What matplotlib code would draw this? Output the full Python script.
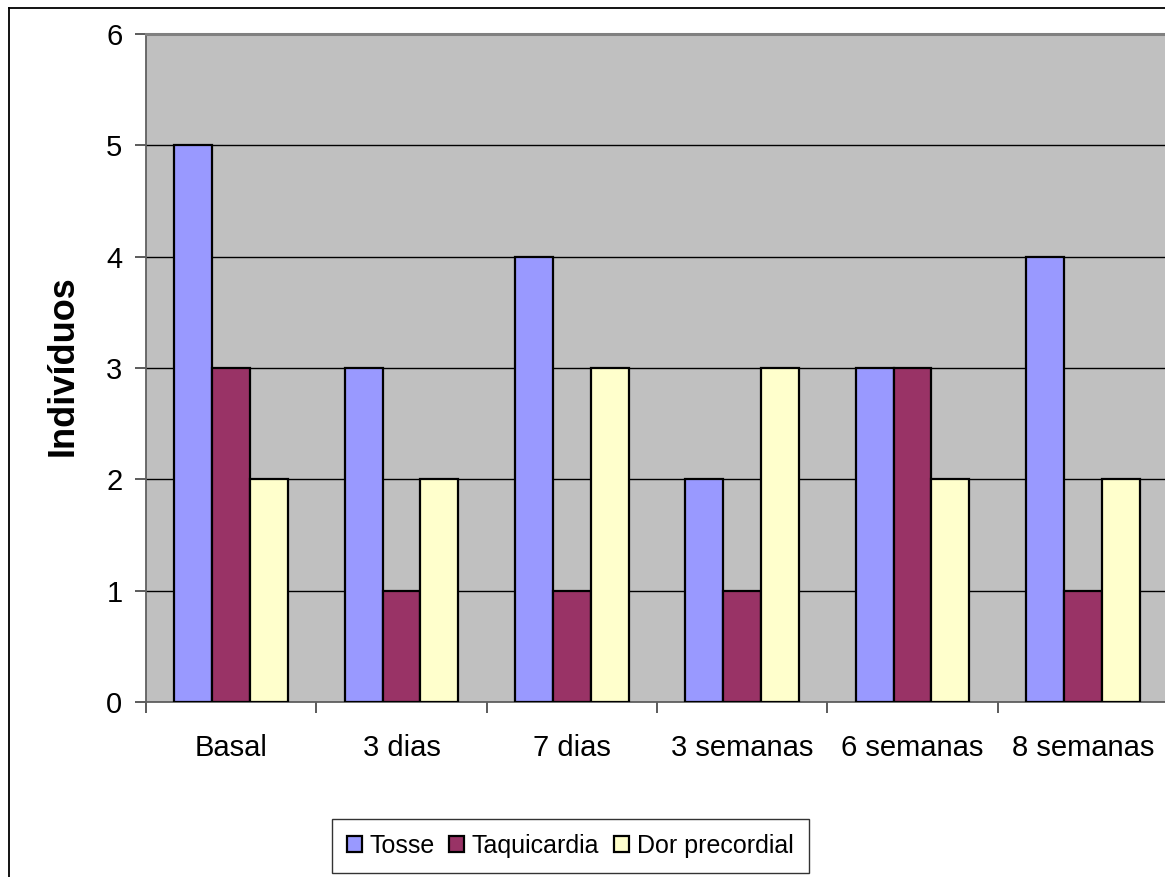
import matplotlib
matplotlib.use("Agg")
import matplotlib.pyplot as plt
import numpy as np
from matplotlib.lines import Line2D

plt.rcParams['font.family'] = ['Liberation Sans', 'DejaVu Sans']

categories = ["Basal", "3 dias", "7 dias", "3 semanas", "6 semanas", "8 semanas"]
series_names = ["Tosse", "Taquicardia", "Dor precordial"]
tosse = [5, 3, 4, 2, 3, 4]
taquicardia = [3, 1, 1, 1, 3, 1]
dor_precordial = [2, 2, 3, 3, 2, 2]
y_ticks = [0, 1, 2, 3, 4, 5, 6]

colors = ["#9999FF", "#993366", "#FFFFCC"]

W, H = 1165, 877
fig = plt.figure(figsize=(W / 100, H / 100), dpi=100)
fig.patch.set_facecolor("white")

# chart-area border (left and top edges visible)
fig.add_artist(Line2D([9 / W, 9 / W], [0, 1 - 8 / H], transform=fig.transFigure,
                      color="black", lw=1.3))
fig.add_artist(Line2D([9 / W, 1], [1 - 8 / H, 1 - 8 / H], transform=fig.transFigure,
                      color="black", lw=1.3))

left, right, top, bottom = 146, 1168, 34, 702
ax = fig.add_axes([left / W, 1 - bottom / H, (right - left) / W, (bottom - top) / H])
ax.set_facecolor("#C0C0C0")

x = np.arange(len(categories))
bw = 1 / 4.5
for i, (vals, name) in enumerate(zip([tosse, taquicardia, dor_precordial], series_names)):
    ax.bar(x + (i - 1) * bw, vals, width=bw, color=colors[i], edgecolor="black",
           linewidth=1.6, label=name, zorder=3)

ax.set_xlim(-0.5, len(categories) - 0.5)
ax.set_ylim(0, 6)
ax.set_yticks(y_ticks)
ax.yaxis.grid(True, color="black", lw=1.0, zorder=1)
ax.set_axisbelow(True)

ax.set_xticks(x)
ax.set_xticklabels(categories, fontsize=21)
ax.set_xticks(np.arange(len(categories) + 1) - 0.5, minor=True)
ax.tick_params(axis="x", which="major", length=0, pad=23)
ax.tick_params(axis="x", which="minor", length=8, width=1.2, color="#404040", direction="out")
ax.tick_params(axis="y", length=8, width=1.2, color="#404040", direction="out",
               labelsize=21, pad=9)

for s in ["left", "bottom"]:
    ax.spines[s].set_color("#606060")
    ax.spines[s].set_linewidth(1.3)
ax.spines["top"].set_color("#808080")
ax.spines["top"].set_linewidth(2.2)
ax.spines["right"].set_visible(False)

fig.text(63 / W, 1 - 366 / H, "Indivíduos", rotation=90, fontsize=26, fontweight="bold",
         ha="center", va="center")

leg = fig.legend(loc="center", bbox_to_anchor=(570 / W, 1 - 846 / H), ncol=3,
                 fontsize=18, frameon=True, fancybox=False, handlelength=0.6,
                 handleheight=0.6, handletextpad=0.3, columnspacing=0.6,
                 borderpad=0.6, borderaxespad=0)
leg.get_frame().set_edgecolor("black")
leg.get_frame().set_linewidth(1.0)
for h in leg.legend_handles:
    h.set_linewidth(1.6)

fig.savefig("out.png", dpi=100)
